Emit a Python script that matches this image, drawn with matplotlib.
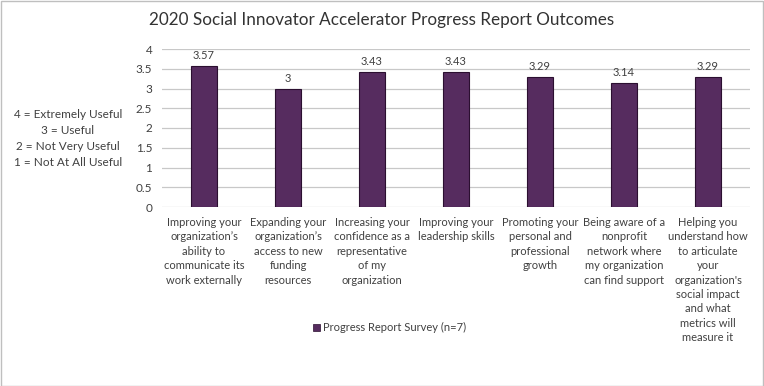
import matplotlib
matplotlib.use('Agg')
import matplotlib.pyplot as plt
from matplotlib.patches import Rectangle

plt.rcParams['font.family'] = ['Lato', 'DejaVu Sans']

# ------ data ------
categories = [
    "Improving your\norganization\u2019s\nability to\ncommunicate its\nwork externally",
    "Expanding your\norganization\u2019s\naccess to new\nfunding\nresources",
    "Increasing your\nconfidence as a\nrepresentative\nof my\norganization",
    "Improving your\nleadership skills",
    "Promoting your\npersonal and\nprofessional\ngrowth",
    "Being aware of a\nnonprofit\nnetwork where\nmy organization\ncan find support",
    "Helping you\nunderstand how\nto articulate\nyour\norganization's\nsocial impact\nand what\nmetrics will\nmeasure it",
]
scores = [3.57, 3, 3.43, 3.43, 3.29, 3.14, 3.29]
score_labels = ['3.57', '3', '3.43', '3.43', '3.29', '3.14', '3.29']
scale_text = ["4 = Extremely Useful", "3 = Useful", "2 = Not Very Useful", "1 = Not At All Useful"]
series_name = "Progress Report Survey (n=7)"

bar_color = '#562C5F'
edge_color = '#2B0F30'
text_color = '#404040'

fig = plt.figure(figsize=(7.64, 3.86), dpi=100)
W, H = 764, 386
ax = fig.add_axes([162 / W, 1 - 207 / H, (750 - 162) / W, (207 - 49) / H])

x = list(range(len(scores)))
ax.bar(x, scores, width=0.3, color=bar_color, edgecolor=edge_color, linewidth=0.8, zorder=3)
for xi, v, lab in zip(x, scores, score_labels):
    ax.text(xi, v + 0.12, lab, ha='center', va='bottom', fontsize=8, color=text_color)

ax.set_xlim(-0.5, len(scores) - 0.5)
ax.set_ylim(0, 4)
ax.set_yticks([0, 0.5, 1, 1.5, 2, 2.5, 3, 3.5, 4])
ax.set_yticklabels(['0', '0.5', '1', '1.5', '2', '2.5', '3', '3.5', '4'])
ax.tick_params(axis='y', length=0, pad=7, labelsize=8.5, labelcolor=text_color)
ax.set_xticks([])
ax.grid(axis='y', color='#C8C8C8', linewidth=0.9, zorder=0)
for s in ax.spines.values():
    s.set_visible(False)

for xi, cat in zip(x, categories):
    ax.text(xi, -0.25, cat, ha='center', va='top', fontsize=8, color=text_color,
            linespacing=1.38, transform=ax.transData)

fig.text(0.5, 1 - 20 / H, "2020 Social Innovator Accelerator Progress Report Outcomes",
         ha='center', va='center', fontsize=12.3, color='#333333')

for i, line in enumerate(scale_text):
    fig.text(68 / W, 1 - (115 + 16 * i) / H, line, ha='center', va='center',
             fontsize=8.5, color=text_color)

# legend
fig.patches.append(Rectangle((313 / W, 1 - 331 / H), 7 / W, 7 / H, transform=fig.transFigure,
                             facecolor=bar_color, edgecolor=edge_color, linewidth=0.5))
fig.text(323 / W, 1 - 327.5 / H, series_name, ha='left', va='center', fontsize=8, color=text_color)

fig.patches.append(Rectangle((0.5 / W, 0.5 / H), 1 - 1.5 / W, 1 - 1.5 / H, transform=fig.transFigure,
                             fill=False, edgecolor='#BFBFBF', linewidth=1))

fig.savefig('out.png', dpi=100)
